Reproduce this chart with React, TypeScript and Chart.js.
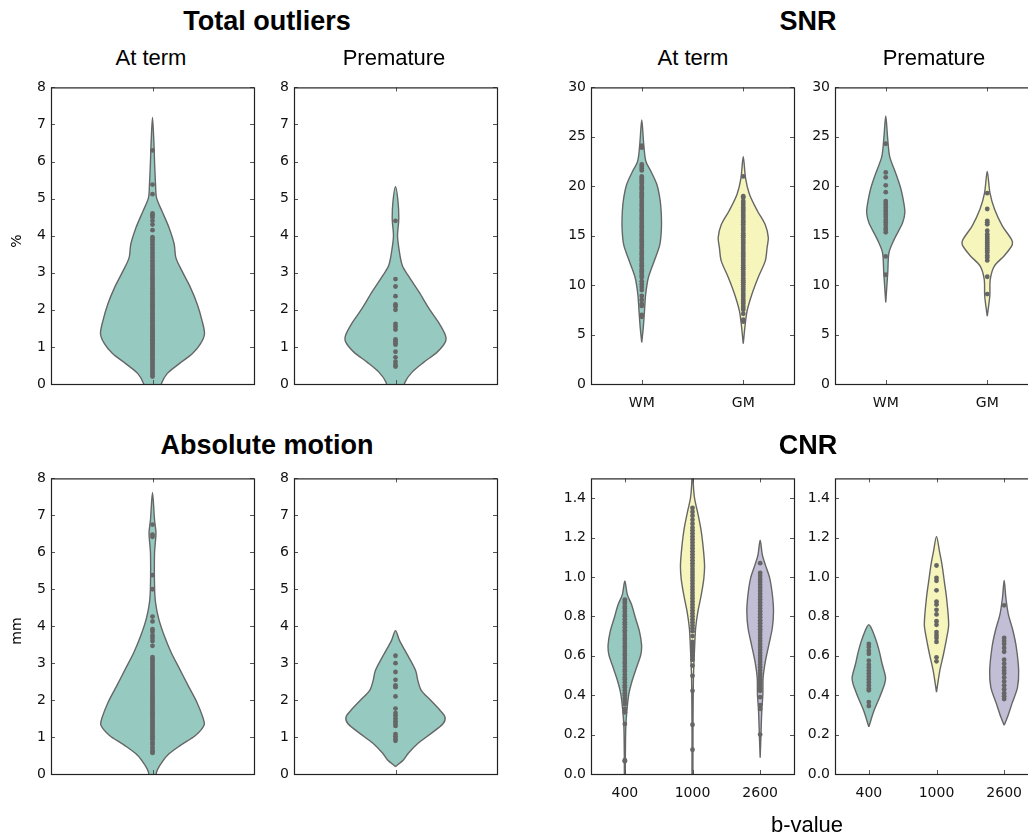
import React, { useEffect, useRef } from 'react';
import { Chart, registerables } from 'chart.js';

Chart.register(...registerables);

// ---------- category / tick labels ----------
const singleCats = [''];
const snrCats = ['WM', 'GM'];
const cnrCats = ['400', '1000', '2600'];
const pctTicks = [0, 1, 2, 3, 4, 5, 6, 7, 8];
const snrTicks = [0, 5, 10, 15, 20, 25, 30];
const cnrTicks = [0, 0.2, 0.4, 0.6, 0.8, 1.0, 1.2, 1.4];

// ---------- violin outlines: [value, half-width in category units] ----------
const outlTermShape = [[-0.3, 0.03], [0.0, 0.043], [0.28, 0.072], [0.55, 0.132], [0.82, 0.197], [1.08, 0.236], [1.35, 0.256], [1.71, 0.244], [2.16, 0.22], [2.6, 0.187], [3.05, 0.145], [3.41, 0.115], [3.77, 0.107], [4.21, 0.082], [4.66, 0.047], [5.02, 0.02], [5.38, 0.015], [6.0, 0.01], [6.5, 0.007], [7.19, 0]];
const outlPremShape = [[-0.3, 0.03], [0.05, 0.047], [0.32, 0.082], [0.59, 0.14], [0.86, 0.205], [1.13, 0.245], [1.31, 0.246], [1.66, 0.212], [2.02, 0.167], [2.47, 0.117], [2.92, 0.063], [3.19, 0.034], [3.54, 0.02], [3.99, 0.01], [4.44, 0.016], [4.89, 0.013], [5.32, 0]];
const snrTermWMShape = [[4.2, 0], [5.7, 0.015], [7.4, 0.027], [9.1, 0.039], [10.8, 0.066], [12.45, 0.123], [14.1, 0.178], [15.8, 0.194], [17.5, 0.191], [18.8, 0.178], [20.2, 0.148], [21.5, 0.091], [22.5, 0.041], [24.2, 0.02], [26.7, 0]];
const snrTermGMShape = [[4.07, 0], [6.1, 0.02], [7.4, 0.038], [9.1, 0.086], [10.8, 0.148], [12.45, 0.217], [13.8, 0.235], [14.8, 0.247], [16.1, 0.217], [17.5, 0.14], [19.2, 0.061], [20.8, 0.023], [23.0, 0]];
const snrPremWMShape = [[8.26, 0], [11.3, 0.02], [13.3, 0.032], [14.6, 0.082], [16.3, 0.166], [17.3, 0.188], [18.0, 0.183], [19.7, 0.15], [21.3, 0.099], [23.0, 0.039], [24.7, 0.02], [27.1, 0]];
const snrPremGMShape = [[6.85, 0], [8.9, 0.025], [10.6, 0.03], [11.95, 0.071], [13.0, 0.17], [14.1, 0.247], [14.6, 0.24], [16.0, 0.148], [17.7, 0.071], [19.3, 0.027], [21.5, 0]];
const motionTermShape = [[-0.3, 0.012], [0.05, 0.02], [0.24, 0.037], [0.51, 0.074], [0.78, 0.139], [1.05, 0.213], [1.32, 0.254], [1.5, 0.25], [1.95, 0.218], [2.4, 0.175], [2.84, 0.134], [3.29, 0.092], [3.74, 0.058], [4.19, 0.031], [4.64, 0.015], [5.09, 0.01], [5.98, 0.01], [6.52, 0.017], [6.88, 0.01], [7.62, 0]];
const motionPremShape = [[0.2, 0], [0.38, 0.039], [0.56, 0.063], [0.83, 0.111], [1.1, 0.176], [1.36, 0.234], [1.54, 0.244], [1.72, 0.22], [2.0, 0.172], [2.26, 0.127], [2.53, 0.11], [2.8, 0.099], [3.25, 0.056], [3.61, 0.02], [3.88, 0]];
const cnrTerm400Shape = [[-0.1, 0.005], [0.0, 0.007], [0.1, 0.008], [0.237, 0.014], [0.32, 0.03], [0.405, 0.059], [0.473, 0.108], [0.54, 0.173], [0.607, 0.237], [0.657, 0.247], [0.725, 0.215], [0.79, 0.158], [0.86, 0.099], [0.91, 0.037], [0.98, 0]];
const cnrTerm1000Shape = [[-0.1, 0.006], [0.2, 0.007], [0.49, 0.014], [0.657, 0.033], [0.742, 0.047], [0.826, 0.081], [0.91, 0.13], [0.99, 0.167], [1.06, 0.178], [1.16, 0.155], [1.245, 0.123], [1.33, 0.074], [1.4, 0.03], [1.47, 0.012], [1.55, 0.006], [1.65, 0]];
const cnrTerm2600Shape = [[0.082, 0], [0.2, 0.012], [0.32, 0.024], [0.405, 0.04], [0.49, 0.044], [0.574, 0.078], [0.657, 0.129], [0.742, 0.18], [0.826, 0.197], [0.91, 0.18], [0.994, 0.141], [1.06, 0.078], [1.11, 0.033], [1.187, 0]];
const cnrPrem400Shape = [[0.239, 0], [0.323, 0.078], [0.39, 0.16], [0.458, 0.234], [0.491, 0.247], [0.558, 0.197], [0.626, 0.152], [0.693, 0.092], [0.757, 0]];
const cnrPrem1000Shape = [[0.415, 0], [0.525, 0.049], [0.609, 0.104], [0.693, 0.152], [0.76, 0.18], [0.895, 0.148], [0.979, 0.115], [1.063, 0.081], [1.13, 0.044], [1.206, 0]];
const cnrPrem2600Shape = [[0.247, 0], [0.289, 0.049], [0.357, 0.115], [0.44, 0.197], [0.525, 0.214], [0.642, 0.18], [0.727, 0.13], [0.81, 0.062], [0.895, 0.025], [0.982, 0]];

// ---------- individual observations ----------
const outlTermDots = [0.2, 0.25, 0.3, 0.36, 0.42, 0.47, 0.52, 0.57, 0.62, 0.67, 0.71, 0.76, 0.8, 0.85, 0.89, 0.93, 0.97, 1.01, 1.05, 1.09, 1.13, 1.17, 1.21, 1.25, 1.29, 1.33, 1.37, 1.41, 1.45, 1.5, 1.54, 1.58, 1.63, 1.68, 1.72, 1.77, 1.81, 1.86, 1.9, 1.95, 2.0, 2.05, 2.1, 2.15, 2.2, 2.25, 2.31, 2.36, 2.42, 2.47, 2.53, 2.58, 2.64, 2.7, 2.76, 2.82, 2.88, 2.94, 3.0, 3.07, 3.13, 3.2, 3.27, 3.34, 3.41, 3.48, 3.55, 3.62, 3.69, 3.76, 3.83, 3.9, 3.96, 4.15, 4.3, 4.4, 4.5, 4.55, 4.6, 5.12, 5.38, 6.3];
const outlPremDots = [0.47, 0.52, 0.6, 0.72, 0.87, 1.06, 1.1, 1.15, 1.2, 1.47, 1.55, 1.62, 2.0, 2.1, 2.15, 2.37, 2.63, 2.83, 4.4];
const snrTermWMDots = [6.8, 7.0, 7.9, 8.1, 8.5, 8.9, 9.5, 9.8, 10.1, 10.4, 10.8, 11.0, 11.25, 11.4, 11.6, 11.85, 12.0, 12.2, 12.45, 12.6, 12.8, 13.05, 13.2, 13.4, 13.65, 13.8, 14.0, 14.2, 14.45, 14.6, 14.8, 15.05, 15.2, 15.4, 15.6, 15.85, 16.0, 16.2, 16.4, 16.65, 16.8, 17.0, 17.2, 17.45, 17.6, 17.8, 18.05, 18.2, 18.4, 18.6, 18.85, 19.0, 19.2, 19.4, 19.65, 19.8, 20.0, 20.25, 20.4, 20.6, 20.8, 21.0, 21.6, 21.8, 22.0, 22.2, 23.9, 24.1];
const snrTermGMDots = [6.3, 6.5, 7.1, 7.5, 7.7, 7.9, 8.15, 8.35, 8.55, 8.8, 9.0, 9.2, 9.45, 9.65, 9.85, 10.1, 10.3, 10.5, 10.7, 10.95, 11.15, 11.35, 11.6, 11.8, 12.0, 12.25, 12.45, 12.65, 12.9, 13.1, 13.3, 13.55, 13.75, 13.95, 14.2, 14.4, 14.6, 14.85, 15.05, 15.25, 15.5, 15.7, 15.9, 16.15, 16.35, 16.55, 16.8, 17.0, 17.2, 17.45, 17.65, 17.85, 18.1, 18.3, 18.5, 18.85, 19.0, 21.0];
const snrPremWMDots = [11.05, 12.9, 15.35, 15.6, 15.8, 16.1, 16.35, 16.6, 16.9, 17.15, 17.4, 17.6, 17.85, 18.1, 18.3, 18.5, 19.4, 20.1, 20.9, 21.4, 24.3];
const snrPremGMDots = [9.1, 10.85, 12.5, 12.8, 13.0, 13.3, 13.5, 13.7, 13.9, 14.1, 14.3, 14.5, 14.7, 14.9, 15.15, 15.5, 16.15, 16.35, 16.5, 17.7, 19.3];
const motionTermDots = [0.57, 0.6, 0.65, 0.72, 0.8, 0.85, 0.92, 0.97, 1.02, 1.07, 1.12, 1.17, 1.22, 1.27, 1.32, 1.37, 1.42, 1.47, 1.52, 1.57, 1.62, 1.67, 1.72, 1.77, 1.82, 1.87, 1.92, 1.97, 2.02, 2.07, 2.12, 2.17, 2.22, 2.27, 2.33, 2.38, 2.44, 2.5, 2.56, 2.62, 2.68, 2.74, 2.8, 2.86, 2.92, 2.98, 3.04, 3.1, 3.16, 3.47, 3.6, 3.68, 3.75, 3.85, 3.92, 4.13, 4.26, 5.0, 5.38, 6.42, 6.48, 6.75];
const motionPremDots = [0.9, 0.95, 1.02, 1.08, 1.3, 1.36, 1.43, 1.5, 1.58, 1.65, 1.77, 2.1, 2.35, 2.4, 2.55, 2.76, 3.0, 3.2];
const cnrTerm400Dots = [0.065, 0.07, 0.254, 0.313, 0.33, 0.355, 0.37, 0.385, 0.4, 0.41, 0.425, 0.44, 0.45, 0.465, 0.48, 0.49, 0.505, 0.52, 0.53, 0.545, 0.56, 0.57, 0.585, 0.6, 0.61, 0.625, 0.64, 0.65, 0.665, 0.68, 0.69, 0.705, 0.72, 0.73, 0.745, 0.76, 0.77, 0.785, 0.8, 0.81, 0.825, 0.84, 0.85, 0.865, 0.875, 0.885];
const cnrTerm1000Dots = [0.123, 0.25, 0.422, 0.498, 0.55, 0.58, 0.6, 0.62, 0.64, 0.655, 0.67, 0.7, 0.725, 0.74, 0.755, 0.77, 0.785, 0.8, 0.815, 0.83, 0.845, 0.86, 0.875, 0.89, 0.905, 0.92, 0.935, 0.95, 0.965, 0.98, 0.995, 1.01, 1.025, 1.04, 1.055, 1.07, 1.085, 1.1, 1.115, 1.13, 1.145, 1.16, 1.175, 1.19, 1.205, 1.22, 1.235, 1.25, 1.27, 1.29, 1.31, 1.33, 1.35];
const cnrTerm2600Dots = [0.2, 0.33, 0.35, 0.39, 0.422, 0.435, 0.45, 0.465, 0.48, 0.495, 0.51, 0.525, 0.54, 0.555, 0.57, 0.585, 0.6, 0.615, 0.63, 0.645, 0.66, 0.675, 0.69, 0.705, 0.72, 0.735, 0.75, 0.765, 0.78, 0.795, 0.81, 0.825, 0.84, 0.855, 0.87, 0.885, 0.9, 0.915, 0.93, 0.945, 0.96, 0.975, 0.99, 1.005, 1.02, 1.07];
const cnrPrem400Dots = [0.345, 0.365, 0.425, 0.435, 0.45, 0.465, 0.48, 0.495, 0.51, 0.525, 0.54, 0.555, 0.575, 0.61, 0.625, 0.645, 0.66];
const cnrPrem1000Dots = [0.572, 0.592, 0.67, 0.69, 0.705, 0.72, 0.757, 0.775, 0.81, 0.833, 0.86, 0.875, 0.932, 0.98, 0.995, 1.058];
const cnrPrem2600Dots = [0.38, 0.395, 0.41, 0.43, 0.45, 0.47, 0.49, 0.51, 0.525, 0.54, 0.56, 0.58, 0.62, 0.64, 0.66, 0.675, 0.69, 0.856];

// ---------- style ----------
const TEAL = '#96cac1';
const YELLOW = '#f5f5bc';
const PURPLE = '#c1bed6';
const EDGE = '#666666';
const DOT = '#666666';
const TICK_FONT = { family: "'DejaVu Sans', sans-serif", size: 14 };
const Y_AXIS_W = 50;
const X_AXIS_H = 45;
const PAD_T = 12;
const PAD_R = 12;
const PLOT_W = 203;

type Violin = { pos: number; shape: number[][]; dots: number[]; color: string };
type PanelSpec = {
  left: number; top: number; h: number;
  yMin: number; yMax: number; yTicks: number[]; yFmt: (v: number) => string;
  cats: string[]; violins: Violin[];
};

const fmtInt = (v: number) => String(v);
const fmt1 = (v: number) => v.toFixed(1);

const panels: PanelSpec[] = [
  { left: 51, top: 86, h: 298, yMin: 0, yMax: 8, yTicks: pctTicks, yFmt: fmtInt, cats: singleCats,
    violins: [{ pos: 0, shape: outlTermShape, dots: outlTermDots, color: TEAL }] },
  { left: 294, top: 86, h: 298, yMin: 0, yMax: 8, yTicks: pctTicks, yFmt: fmtInt, cats: singleCats,
    violins: [{ pos: 0, shape: outlPremShape, dots: outlPremDots, color: TEAL }] },
  { left: 591, top: 86, h: 298, yMin: 0, yMax: 30, yTicks: snrTicks, yFmt: fmtInt, cats: snrCats,
    violins: [
      { pos: 0, shape: snrTermWMShape, dots: snrTermWMDots, color: TEAL },
      { pos: 1, shape: snrTermGMShape, dots: snrTermGMDots, color: YELLOW }] },
  { left: 835, top: 86, h: 298, yMin: 0, yMax: 30, yTicks: snrTicks, yFmt: fmtInt, cats: snrCats,
    violins: [
      { pos: 0, shape: snrPremWMShape, dots: snrPremWMDots, color: TEAL },
      { pos: 1, shape: snrPremGMShape, dots: snrPremGMDots, color: YELLOW }] },
  { left: 51, top: 477, h: 297, yMin: 0, yMax: 8, yTicks: pctTicks, yFmt: fmtInt, cats: singleCats,
    violins: [{ pos: 0, shape: motionTermShape, dots: motionTermDots, color: TEAL }] },
  { left: 294, top: 477, h: 297, yMin: 0, yMax: 8, yTicks: pctTicks, yFmt: fmtInt, cats: singleCats,
    violins: [{ pos: 0, shape: motionPremShape, dots: motionPremDots, color: TEAL }] },
  { left: 591, top: 477, h: 297, yMin: 0, yMax: 1.5, yTicks: cnrTicks, yFmt: fmt1, cats: cnrCats,
    violins: [
      { pos: 0, shape: cnrTerm400Shape, dots: cnrTerm400Dots, color: TEAL },
      { pos: 1, shape: cnrTerm1000Shape, dots: cnrTerm1000Dots, color: YELLOW },
      { pos: 2, shape: cnrTerm2600Shape, dots: cnrTerm2600Dots, color: PURPLE }] },
  { left: 835, top: 477, h: 297, yMin: 0, yMax: 1.5, yTicks: cnrTicks, yFmt: fmt1, cats: cnrCats,
    violins: [
      { pos: 0, shape: cnrPrem400Shape, dots: cnrPrem400Dots, color: TEAL },
      { pos: 1, shape: cnrPrem1000Shape, dots: cnrPrem1000Dots, color: YELLOW },
      { pos: 2, shape: cnrPrem2600Shape, dots: cnrPrem2600Dots, color: PURPLE }] },
];

function outline(v: Violin) {
  const pts: { x: number; y: number }[] = [];
  const s = v.shape;
  for (let i = 0; i < s.length; i++) pts.push({ x: v.pos + s[i][1], y: s[i][0] });
  for (let i = s.length - 1; i >= 0; i--) {
    if (s[i][1] === 0) continue;
    pts.push({ x: v.pos - s[i][1], y: s[i][0] });
  }
  pts.push({ ...pts[0] });
  return pts;
}

const frameTicks = {
  id: 'frameTicks',
  afterDraw(chart: any) {
    const { ctx, chartArea: a, scales } = chart;
    ctx.save();
    ctx.strokeStyle = '#555';
    ctx.lineWidth = 1;
    ctx.beginPath();
    scales.y.ticks.forEach((t: any) => {
      const p = Math.round(scales.y.getPixelForValue(t.value)) + 0.5;
      ctx.moveTo(a.left, p); ctx.lineTo(a.left + 4, p);
      ctx.moveTo(a.right - 4, p); ctx.lineTo(a.right, p);
    });
    scales.x.ticks.forEach((t: any) => {
      const p = Math.round(scales.x.getPixelForValue(t.value)) + 0.5;
      ctx.moveTo(p, a.top); ctx.lineTo(p, a.top + 4);
      ctx.moveTo(p, a.bottom); ctx.lineTo(p, a.bottom - 4);
    });
    ctx.stroke();
    ctx.strokeStyle = '#222';
    ctx.lineWidth = 1.2;
    ctx.strokeRect(a.left + 0.5, a.top + 0.5, a.right - a.left, a.bottom - a.top);
    ctx.restore();
  },
};

function buildConfig(p: PanelSpec): any {
  const datasets: any[] = [];
  p.violins.forEach((v) => {
    datasets.push({
      data: outline(v),
      borderColor: EDGE,
      borderWidth: 1.4,
      backgroundColor: v.color,
      fill: 'shape',
      pointRadius: 0,
      tension: 0.3,
      order: 2,
    });
  });
  p.violins.forEach((v) => {
    datasets.push({
      data: v.dots.map((y) => ({ x: v.pos, y })),
      showLine: false,
      pointRadius: 2.4,
      pointBackgroundColor: DOT,
      pointBorderWidth: 0,
      order: 1,
    });
  });
  const n = p.cats.length;
  return {
    type: 'line',
    data: { datasets },
    options: {
      animation: false,
      responsive: false,
      events: [],
      layout: { padding: { left: 0, top: PAD_T, right: PAD_R, bottom: 0 } },
      plugins: { legend: { display: false }, tooltip: { enabled: false }, title: { display: false } },
      scales: {
        x: {
          type: 'linear', min: -0.5, max: n - 0.5,
          grid: { display: false, drawTicks: false },
          border: { display: false },
          afterBuildTicks: (s: any) => { s.ticks = p.cats.map((_, i) => ({ value: i })); },
          afterFit: (s: any) => { s.height = X_AXIS_H; },
          ticks: {
            callback: (_v: any, i: number) => p.cats[i] ?? '',
            font: TICK_FONT, color: '#111', padding: 11,
            maxRotation: 0, minRotation: 0, autoSkip: false,
          },
        },
        y: {
          type: 'linear', min: p.yMin, max: p.yMax,
          grid: { display: false, drawTicks: false },
          border: { display: false },
          afterBuildTicks: (s: any) => { s.ticks = p.yTicks.map((v) => ({ value: v })); },
          afterFit: (s: any) => { s.width = Y_AXIS_W; },
          ticks: { callback: (v: any) => p.yFmt(Number(v)), font: TICK_FONT, color: '#111', padding: 5 },
        },
      },
    },
    plugins: [frameTicks],
  };
}

function Panel({ spec }: { spec: PanelSpec }) {
  const ref = useRef<HTMLCanvasElement>(null);
  const w = Y_AXIS_W + PLOT_W + PAD_R;
  const h = PAD_T + spec.h + X_AXIS_H;
  useEffect(() => {
    const chart = new Chart(ref.current as HTMLCanvasElement, buildConfig(spec));
    return () => chart.destroy();
  }, []);
  return (
    <canvas
      ref={ref}
      width={w}
      height={h}
      style={{ position: 'absolute', left: spec.left - Y_AXIS_W, top: spec.top - PAD_T, width: w, height: h }}
    />
  );
}

const SANS = "'Liberation Sans', Arial, Helvetica, sans-serif";

function Label({ x, base, size, bold, children }: { x: number; base: number; size: number; bold?: boolean; children: any }) {
  return (
    <div
      style={{
        position: 'absolute', left: x, top: base - 0.8465 * size, transform: 'translateX(-50%)',
        fontFamily: SANS, fontSize: size, fontWeight: bold ? 700 : 400, lineHeight: `${size}px`,
        whiteSpace: 'nowrap', color: '#000',
      }}
    >
      {children}
    </div>
  );
}

function VLabel({ x, y, children }: { x: number; y: number; children: any }) {
  return (
    <div
      style={{
        position: 'absolute', left: x, top: y, transform: 'translate(-50%, -50%) rotate(-90deg)',
        fontFamily: "'DejaVu Sans', sans-serif", fontSize: 14, lineHeight: '14px', whiteSpace: 'nowrap', color: '#000',
      }}
    >
      {children}
    </div>
  );
}

export default function App() {
  return (
    <div style={{ position: 'absolute', left: 0, top: 0, width: 1028, height: 838, overflow: 'hidden', background: '#fff' }}>
      {panels.map((p, i) => <Panel key={i} spec={p} />)}
      <Label x={267} base={30.7} size={27} bold>Total outliers</Label>
      <Label x={808} base={30.7} size={27} bold>SNR</Label>
      <Label x={267} base={454.5} size={27} bold>Absolute motion</Label>
      <Label x={808} base={454.5} size={27} bold>CNR</Label>
      <Label x={151} base={65.7} size={22}>At term</Label>
      <Label x={394} base={65.7} size={22}>Premature</Label>
      <Label x={693} base={65.7} size={22}>At term</Label>
      <Label x={934} base={65.7} size={22}>Premature</Label>
      <Label x={807} base={833} size={22}>b-value</Label>
      <VLabel x={16} y={241}>%</VLabel>
      <VLabel x={16} y={631}>mm</VLabel>
    </div>
  );
}
